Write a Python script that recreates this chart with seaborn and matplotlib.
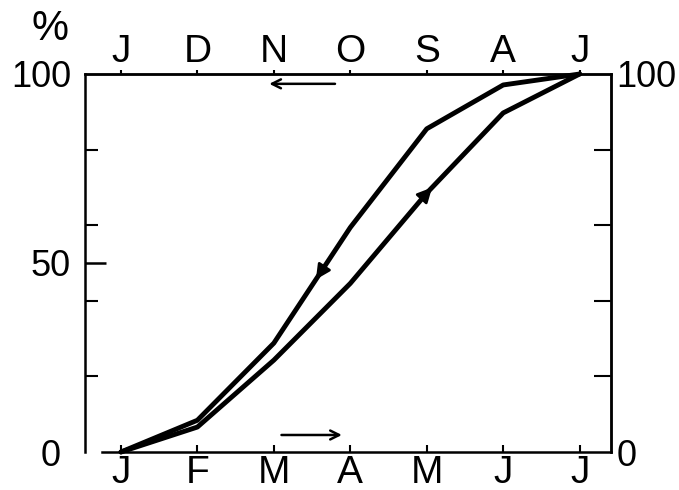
import numpy as np
import pandas as pd
import matplotlib
matplotlib.use("Agg")
import matplotlib.pyplot as plt
import seaborn as sns

# Month markers: January -> July along the bottom, July -> January along the top
spring_months = ["J", "F", "M", "A", "M", "J", "J"]
autumn_months = ["J", "D", "N", "O", "S", "A", "J"]

# Cumulative percentage reached at each month
rising_pct = [0, 6.6, 24.3, 44.6, 68.5, 89.7, 100]
falling_pct = [0, 8.4, 28.8, 59.4, 85.5, 97.1, 100]

left_ticks = [0, 50, 100]
left_labels = ["0 ", "50", "100"]
minor_ticks = [20, 40, 60, 80]
right_ticks = [0, 100]
right_labels = ["0", "100"]

sns.set_style("ticks")
plt.rcParams["font.family"] = ["Liberation Sans", "DejaVu Sans"]
plt.rcParams["text.color"] = "black"
plt.rcParams["xtick.color"] = "black"
plt.rcParams["ytick.color"] = "black"

pos = np.arange(len(spring_months))
df = pd.DataFrame({
    "pos": np.concatenate([pos, pos]),
    "pct": rising_pct + falling_pct,
    "run": ["rising"] * len(pos) + ["falling"] * len(pos),
})

W, H = 679, 490
fig = plt.figure(figsize=(W / 100, H / 100), dpi=100)
ax = fig.add_axes([85 / W, 1 - 452 / H, (611 - 85) / W, (452 - 74) / H])

sns.lineplot(data=df, x="pos", y="pct", hue="run",
             palette={"rising": "black", "falling": "black"},
             legend=False, lw=3.5, sort=False, clip_on=False, ax=ax)

ax.set_xlim(-0.47, 6.41)
ax.set_ylim(0, 100)
ax.set_xlabel("")
ax.set_ylabel("")

FS_MONTH = 28
FS_NUM = 26
LW = 1.8

# bottom axis
ax.set_xticks(pos, spring_months)
ax.tick_params(axis="x", direction="in", length=5, width=1.5, pad=2,
               labelsize=FS_MONTH)

# left axis
ax.set_yticks(left_ticks, left_labels)
ax.set_yticks(minor_ticks, minor=True)
ax.tick_params(axis="y", which="major", direction="in", length=15, width=LW,
               pad=10, labelsize=FS_NUM)
ax.tick_params(axis="y", which="minor", direction="in", length=9, width=1.5)
yt = ax.yaxis.get_major_ticks()
yt[0].tick1line.set_visible(False)
yt[2].tick1line.set_visible(False)

for s in ax.spines.values():
    s.set_linewidth(LW)
    s.set_color("black")
ax.spines["bottom"].set_bounds(-0.25, 6.41)

# top axis
top = ax.secondary_xaxis("top")
top.set_xticks(pos, autumn_months)
top.tick_params(direction="out", length=3, width=1.5, pad=0,
                labelsize=FS_MONTH)
top.spines["top"].set_linewidth(LW)

# right axis
right = ax.secondary_yaxis("right")
right.set_yticks(right_ticks, right_labels)
right.set_yticks(minor_ticks, minor=True)
right.tick_params(which="major", length=0, pad=4, labelsize=FS_NUM)
right.tick_params(which="minor", direction="in", length=12, width=1.5)
right.spines["right"].set_linewidth(LW)

fig.text(50 / W, 1 - 29 / H, "%", ha="center", va="center", fontsize=30)

# direction arrows along the axes
arrow_kw = dict(arrowstyle="->", lw=1.8, color="black", mutation_scale=16,
                shrinkA=0, shrinkB=0)
ax.annotate("", xy=(1.94, 97.4), xytext=(2.80, 97.4), arrowprops=arrow_kw)
ax.annotate("", xy=(2.89, 4.5), xytext=(2.10, 4.5), arrowprops=arrow_kw)

# arrowheads on the curves
head_kw = dict(arrowstyle="-|>", lw=2, color="black", mutation_scale=22,
               shrinkA=0, shrinkB=0)
x_fall = 2.55
ax.annotate("", xy=(x_fall, np.interp(x_fall, pos, falling_pct)),
            xytext=(x_fall + 0.1, np.interp(x_fall + 0.1, pos, falling_pct)),
            arrowprops=head_kw)
x_rise = 4.07
ax.annotate("", xy=(x_rise, np.interp(x_rise, pos, rising_pct)),
            xytext=(x_rise - 0.1, np.interp(x_rise - 0.1, pos, rising_pct)),
            arrowprops=head_kw)

fig.savefig("out.png", dpi=100)
